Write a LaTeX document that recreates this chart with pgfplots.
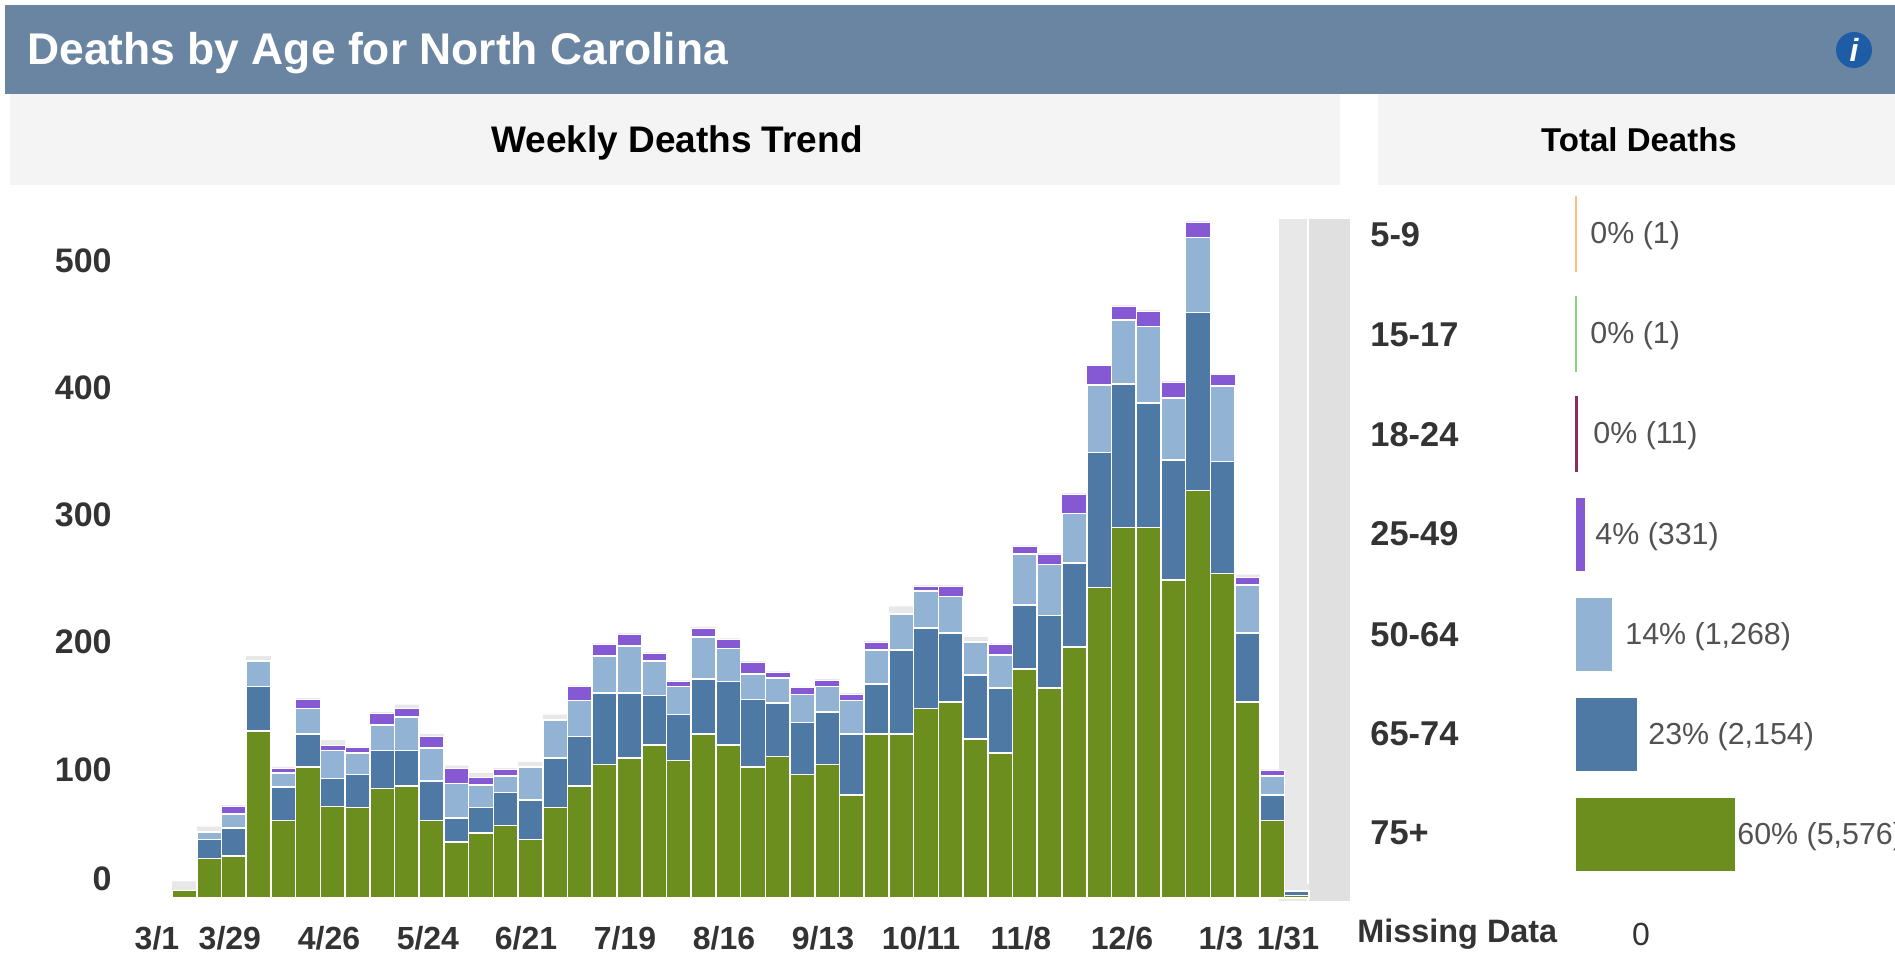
\documentclass[border=0pt]{standalone}
\usepackage{pgfplots}
\usepackage{pgfplotstable}
\usepackage{fontspec}
\setmainfont{Liberation Sans}
\pgfplotsset{compat=1.18}
\definecolor{gG}{HTML}{6B8E1E}
\definecolor{gD}{HTML}{4E79A5}
\definecolor{gL}{HTML}{93B3D4}
\definecolor{gP}{HTML}{8459D3}
\definecolor{gC}{HTML}{E8E8E8}
\definecolor{gO}{HTML}{FFBE7D}
\definecolor{gT}{HTML}{8CD17D}
\definecolor{gM}{HTML}{8B2F5F}
\definecolor{hdr}{HTML}{6A85A1}
\definecolor{sub}{HTML}{F4F4F4}
\definecolor{txt}{HTML}{333333}
\definecolor{info}{HTML}{1F5CA6}
\pgfplotstableread{
i G D L P C
0 6 0 0 0 7
1 31 15 6 0 4
2 33 22 11 6 1
3 131 35 20 0 4
4 61 26 11 4 1
5 103 26 20 7 1
6 72 22 22 4 4
7 71 26 17 4 1
8 86 30 20 9 1
9 88 28 26 7 3
10 61 31 26 9 2
11 44 19 27 12 2
12 51 20 18 6 3
13 57 26 13 5 1
14 46 31 26 0 4
15 71 39 30 0 4
16 88 39 28 11 1
17 105 56 29 9 1
18 110 51 37 9 1
19 120 39 27 6 1
20 108 36 22 4 1
21 129 43 33 7 1
22 120 50 26 7 1
23 103 53 20 9 1
24 111 42 20 4 1
25 97 41 22 5 1
26 105 41 20 5 1
27 81 48 26 5 1
28 129 39 27 6 1
29 129 66 28 0 6
30 149 63 29 4 1
31 154 54 29 8 1
32 125 50 26 0 4
33 114 51 26 8 1
34 180 50 40 6 1
35 165 57 40 8 1
36 197 66 39 15 1
37 244 106 53 15 1
38 291 113 50 11 1
39 291 98 60 12 1
40 250 94 49 12 1
41 320 140 59 12 1
42 255 88 59 9 1
43 154 54 38 6 2
44 61 20 15 4 1
45 2 3 1 0 5
}\weekly
\begin{document}
\begin{tikzpicture}
\begin{scope}[x=0.5pt,y=-0.5pt]
\clip (0,0) rectangle (1895,953);
\path[fill=white] (0,0) rectangle (1895,953);
\fill[hdr] (5,5) rectangle (1895,94);
\fill[sub] (10,94) rectangle (1340,185);
\fill[sub] (1378,94) rectangle (1895,185);
\fill[gC] (1279,219) rectangle (1307,901);
\fill[black!12] (1309,219) rectangle (1350,901);
\node[anchor=west,text=white,font=\fontsize{22.2}{24}\selectfont\bfseries,inner sep=0] at (27,53) {Deaths by Age for North Carolina};
\fill[info] (1854,50) circle (18);
\node[text=white,font=\fontsize{16}{18}\selectfont\bfseries\itshape,inner sep=0] at (1854,50) {i};
\node[text=black,font=\fontsize{18.5}{20}\selectfont\bfseries,inner sep=0] at (677,143) {Weekly Deaths Trend};
\node[text=black,font=\fontsize{16.5}{20}\selectfont\bfseries,inner sep=0] at (1639,140) {Total Deaths};
\foreach \n/\yy in {5-9/235,15-17/335,18-24/435,25-49/534,50-64/635,65-74/734,75+/833}
  \node[anchor=west,text=txt,font=\fontsize{17.2}{20}\selectfont\bfseries,inner sep=0] at (1370,\yy) {\n};
\node[anchor=west,text=txt,font=\fontsize{16.2}{20}\selectfont\bfseries,inner sep=0] at (1357,934) {Missing Data};
\node[text=txt,font=\fontsize{16}{20}\selectfont,inner sep=0] at (1641,934) {0};
\node[anchor=west,text=txt!85,font=\fontsize{15.2}{18}\selectfont,inner sep=0] at (1590,236) {0\% (1)};
\node[anchor=west,text=txt!85,font=\fontsize{15.2}{18}\selectfont,inner sep=0] at (1590,336) {0\% (1)};
\node[anchor=west,text=txt!85,font=\fontsize{15.2}{18}\selectfont,inner sep=0] at (1593,436) {0\% (11)};
\node[anchor=west,text=txt!85,font=\fontsize{15.2}{18}\selectfont,inner sep=0] at (1595,537) {4\% (331)};
\node[anchor=west,text=txt!85,font=\fontsize{15.2}{18}\selectfont,inner sep=0] at (1625,637) {14\% (1,268)};
\node[anchor=west,text=txt!85,font=\fontsize{15.2}{18}\selectfont,inner sep=0] at (1648,737) {23\% (2,154)};
\node[anchor=west,text=txt!85,font=\fontsize{15.2}{18}\selectfont,inner sep=0] at (1737,837) {60\% (5,576)};
\end{scope}
\path[clip] (0,0) rectangle (947.5pt,-476.5pt);
\begin{axis}[
  at={(60pt,-450.9pt)},anchor=south west,
  scale only axis,width=620pt,height=345.6pt,
  xmin=-2.605,xmax=47.556,ymin=-3,ymax=540,
  axis line style={draw=none},
  major tick length=0pt,
  ybar stacked,
  bar width=12.36pt,
  clip=true,
  ytick={0,100,200,300,400,500},
  yticklabels={\raisebox{18pt}{0},100,200,300,400,500},
  xtick={-1.11,1.84,5.85,9.85,13.82,17.82,21.83,25.83,29.8,33.84,37.93,41.93,44.64},
  xticklabels={3/1,3/29,4/26,5/24,6/21,7/19,8/16,9/13,10/11,11/8,12/6,1/3,1/31},
  tick label style={font=\fontsize{16}{18}\selectfont\bfseries,text=txt,inner sep=0pt},
  yticklabel style={xshift=-4pt,yshift=0.6pt,font=\fontsize{17}{18}\selectfont\bfseries},
  xticklabel style={yshift=-12pt},
]
\addplot[fill=gG,draw=white,line width=0.8pt] table[x=i,y=G]{\weekly};
\addplot[fill=gD,draw=white,line width=0.8pt] table[x=i,y=D]{\weekly};
\addplot[fill=gL,draw=white,line width=0.8pt] table[x=i,y=L]{\weekly};
\addplot[fill=gP,draw=white,line width=0.5pt] table[x=i,y=P]{\weekly};
\addplot[fill=gC,draw=none] table[x=i,y=C]{\weekly};
\end{axis}
\begin{axis}[
  at={(788pt,-442pt)},anchor=south west,
  scale only axis,width=159.5pt,height=350pt,
  xmin=0,xmax=11217,ymin=-0.5,ymax=6.5,y dir=reverse,
  axis line style={draw=none},
  xtick=\empty,ytick=\empty,
  xbar,bar shift=0pt,bar width=36.5pt,
  clip=false,
]
\addplot[fill=gO,draw=gO,line width=1.4pt] coordinates {(1,0)};
\addplot[fill=gT,draw=gT,line width=1.4pt] coordinates {(1,1)};
\addplot[fill=gM,draw=gM,line width=1.4pt] coordinates {(11,2)};
\addplot[fill=gP,draw=none] coordinates {(331,3)};
\addplot[fill=gL,draw=none] coordinates {(1268,4)};
\addplot[fill=gD,draw=none] coordinates {(2154,5)};
\addplot[fill=gG,draw=none] coordinates {(5576,6)};
\end{axis}
\end{tikzpicture}
\end{document}
